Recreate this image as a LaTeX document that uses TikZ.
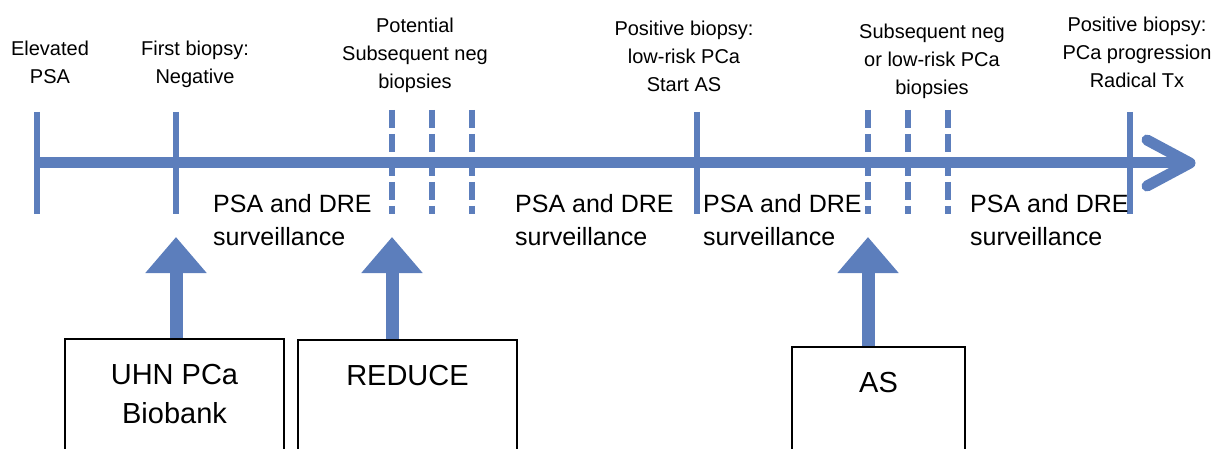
\documentclass[tikz,border=0pt]{standalone}
\usepackage{fontspec}
\setmainfont{Liberation Sans}
\usetikzlibrary{arrows.meta}
\definecolor{lineblue}{RGB}{92,126,188}
\tikzstyle{tline}=[lineblue,line width=11pt]
\tikzstyle{tickline}=[lineblue,line width=6pt]
\tikzstyle{dashline}=[tickline,dash pattern=on 18pt off 6pt]
\tikzstyle{bigarrow}=[lineblue,line width=13pt,-{Triangle[width=59pt,length=36pt]}]
\tikzstyle{toplabel}=[align=center,anchor=base,inner sep=0pt,font=\fontsize{20}{28}\selectfont]
\tikzstyle{midlabel}=[align=left,anchor=base west,inner sep=0pt,font=\fontsize{25}{33}\selectfont]
\tikzstyle{studybox}=[draw,line width=2pt,anchor=north,align=center,inner xsep=0pt,inner ysep=24pt,
  text height=21pt,text depth=110pt,minimum width=219pt,font=\fontsize{29}{39}\selectfont]
\def\tick#1{\draw[tickline] (#1) ++(0,-51) -- ++(0,102)}
\def\dashtick#1{\draw[dashline] (#1) ++(0,-53) -- ++(0,104)}

\begin{document}
\begin{tikzpicture}[x=1pt,y=-1pt]
  \useasboundingbox (0,0) rectangle (1212,449);
  \clip (0,0) rectangle (1212,449);
  \coordinate (O) at (37,163);
  \coordinate (E) at (1190,163);
  \coordinate (Eb) at (1185,163);
  \coordinate (first) at (176,163);
  \coordinate (pos) at (697,163);
  \coordinate (prog) at (1130,163);
  \coordinate (a1) at (176,237);
  \coordinate (a2) at (392,237);
  \coordinate (a3) at (868,237);

  % TIMELINE
  \draw[tline] (O) -- (Eb);
  \draw[tline,line cap=round,line join=round] (E) ++(-43,-23) -- (E) -- ++(-43,23);
  \tick{O};
  \tick{first};
  \tick{pos};
  \tick{prog};
  \dashtick{392,163};
  \dashtick{432,163};
  \dashtick{472,163};
  \dashtick{868,163};
  \dashtick{908,163};
  \dashtick{948,163};

  % EVENTS (anchor = baseline of last line)
  \node[toplabel] (elevated) at (50,84) {Elevated\\PSA};
  \node[toplabel] (negbx) at (195,84) {First biopsy:\\Negative};
  \node[toplabel] (potential) at (415,89) {Potential\\Subsequent neg\\biopsies};
  \node[toplabel] (lowrisk) at (684,92) {Positive biopsy:\\low-risk PCa\\Start AS};
  \node[toplabel] (subseq) at (932,95) {Subsequent neg\\or low-risk PCa\\biopsies};
  \node[toplabel] (progress) at (1137,88) {Positive biopsy:\\PCa progression\\Radical Tx};

  % SURVEILLANCE
  \node[midlabel] (surv1) at (213,245) {PSA and DRE\\surveillance};
  \node[midlabel] (surv2) at (515,245) {PSA and DRE\\surveillance};
  \node[midlabel] (surv3) at (703,245) {PSA and DRE\\surveillance};
  \node[midlabel] (surv4) at (970,245) {PSA and DRE\\surveillance};

  % COHORTS
  \node[studybox,text height=60pt] (uhn) at (174.5,338) {UHN PCa\\Biobank};
  \node[studybox] (reduce) at (407.5,339) {REDUCE};
  \node[studybox,minimum width=173pt] (as) at (878.5,346) {AS};
  \draw[bigarrow] (a1 |- uhn.north) -- (a1);
  \draw[bigarrow] (a2 |- reduce.north) -- (a2);
  \draw[bigarrow] (a3 |- as.north) -- (a3);
\end{tikzpicture}
\end{document}
